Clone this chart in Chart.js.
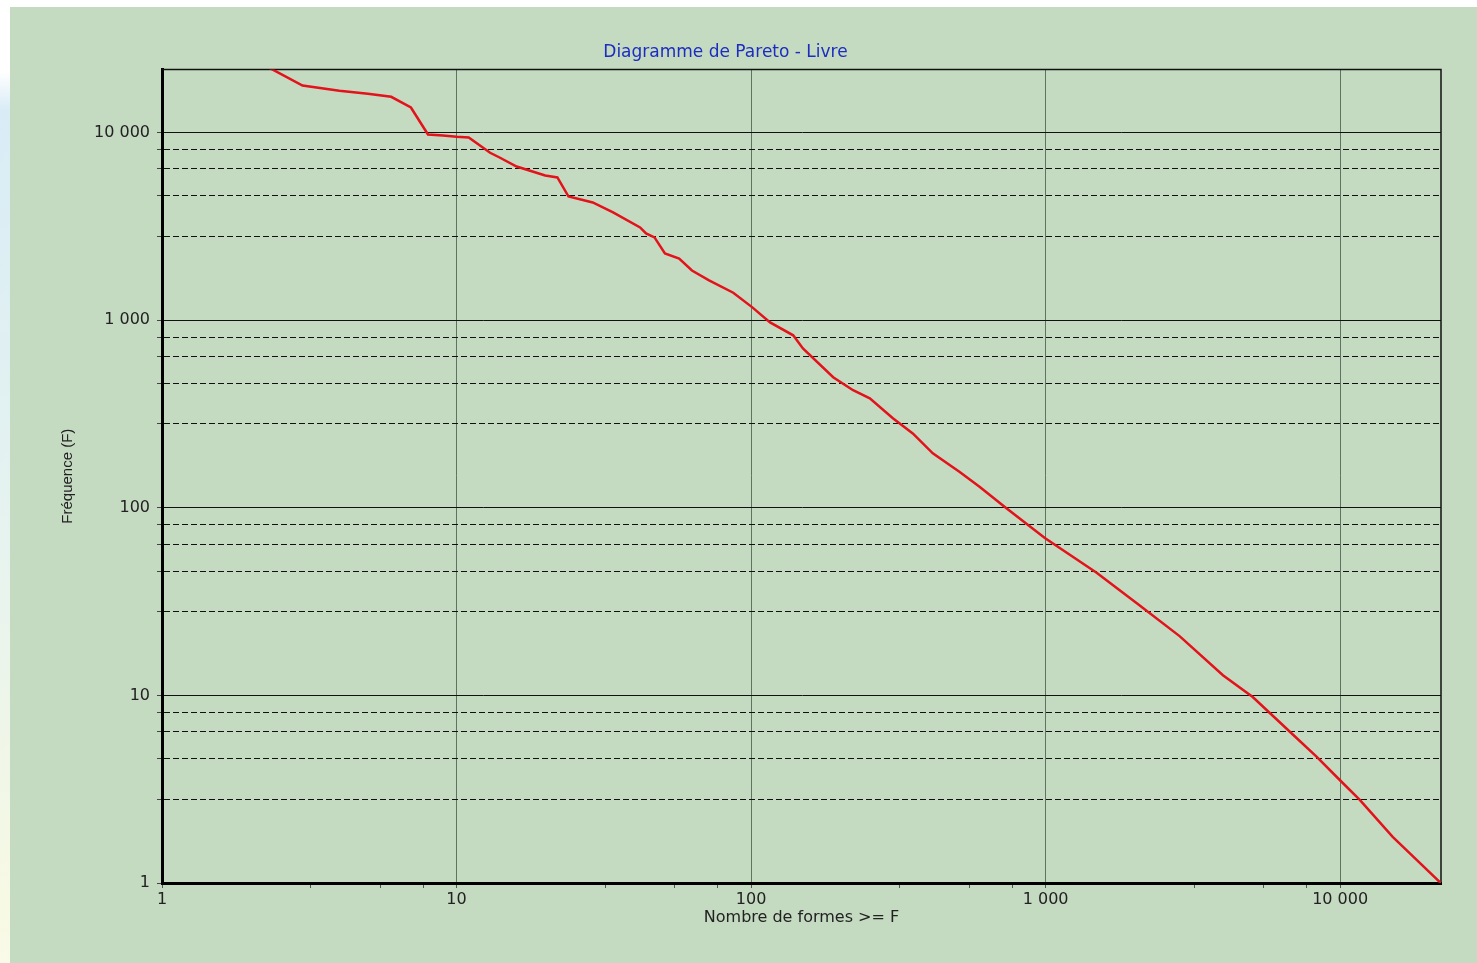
<!DOCTYPE html>
<html lang="fr">
<head>
<meta charset="utf-8">
<title>Diagramme de Pareto - Livre</title>
<script src="https://cdn.jsdelivr.net/npm/chart.js@4.4.1/dist/chart.umd.min.js"></script>
<style>
  html, body { margin: 0; padding: 0; width: 1477px; height: 963px; overflow: hidden; }
  body { background: linear-gradient(to bottom, #ffffff 0px, #ffffff 72px, #d9ecf6 110px, #e4f2f0 480px, #f6f9e4 900px, #f9fae8 963px); }
  #panel { position: absolute; left: 10px; top: 7px; width: 1467px; height: 956px; background: #c4dbc1; }
  canvas { display: block; }
</style>
</head>
<body>
<div id="panel"><canvas id="pareto" width="1467" height="956"></canvas></div>
<script>
// rang (nombre de formes >= F) et fréquence F
const rangs = [2, 3, 4, 5, 6, 7, 8, 9, 10, 11, 13, 14, 16, 20, 22, 24, 29, 34, 42, 44, 47, 51, 57, 63, 72, 87,
  101, 116, 139, 150, 190, 222, 253, 303, 354, 414, 511, 598, 727, 994,
  1490, 2040, 2850, 4000, 5050, 6750, 8330, 9970, 11660, 15080, 21960];
const frequences = [25000, 17800, 16700, 16100, 15500, 13600, 9760, 9650, 9500, 9400, 7800, 7360, 6590, 5900, 5760, 4560, 4240, 3750, 3120, 2900, 2760, 2270, 2130, 1840, 1630, 1400,
  1170, 973, 830, 707, 496, 423, 383, 300, 249, 195, 155, 129, 101, 69,
  45, 31, 20.7, 12.8, 9.8, 6.4, 4.7, 3.54, 2.77, 1.76, 1];

// graduations
const decades = [1, 10, 100, 1000, 10000];
const yIntermediaires = [2.8, 4.6, 6.4, 8.1]; // lignes pointillées dans chaque décade
const xIntermediaires = [3.2, 5.5, 7.7];      // petits traits sous l'axe des x
const xMax = 22000;
const yMax = 21700;

function formatFr(v) {
  return String(v).replace(/\B(?=(\d{3})+(?!\d))/g, ' ');
}

function graduations(facteurs, max) {
  const out = [];
  decades.forEach(d => {
    out.push(d);
    facteurs.forEach(f => out.push(d * f));
  });
  return out.filter(v => v <= max).sort((a, b) => a - b);
}

const estDecade = c => c.tick && decades.includes(c.tick.value);

const police = { family: 'DejaVu Sans', size: 16 };

// cadre fin en haut et à droite
const cadre = {
  id: 'cadre',
  beforeDatasetsDraw(chart) {
    const { ctx, chartArea: { left, top, right, bottom } } = chart;
    ctx.save();
    ctx.strokeStyle = '#111';
    ctx.lineWidth = 1.5;
    ctx.beginPath();
    ctx.moveTo(left, top);
    ctx.lineTo(right, top);
    ctx.lineTo(right, bottom);
    ctx.stroke();
    ctx.restore();
  }
};

const data = {
  datasets: [{
    label: 'Fréquence',
    data: rangs.map((r, i) => ({ x: r, y: frequences[i] })),
    borderColor: '#e3121b',
    borderWidth: 2.5,
    pointRadius: 0,
    tension: 0
  }]
};

const config = {
  type: 'line',
  data,
  options: {
    responsive: false,
    animation: false,
    layout: { padding: { left: 0, right: 36, top: 0, bottom: 0 } },
    plugins: {
      legend: { display: false },
      tooltip: { enabled: false },
      title: {
        display: true,
        text: 'Diagramme de Pareto - Livre',
        color: '#1d2cc0',
        font: { family: 'DejaVu Sans', size: 17, weight: 'normal' },
        padding: { top: 35, bottom: 7 }
      }
    },
    scales: {
      x: {
        type: 'logarithmic',
        min: 1,
        max: xMax,
        afterBuildTicks: s => { s.ticks = graduations(xIntermediaires, xMax).map(v => ({ value: v })); },
        afterFit: s => { s.height = 80; },
        ticks: {
          autoSkip: false,
          maxRotation: 0,
          padding: 2,
          color: '#222',
          font: police,
          callback: v => decades.includes(v) ? formatFr(v) : ''
        },
        grid: {
          color: c => estDecade(c) ? 'rgba(70,90,70,0.8)' : 'rgba(0,0,0,0)',
          lineWidth: 1,
          tickLength: 5,
          tickColor: '#555'
        },
        border: { color: '#000', width: 3 },
        title: {
          display: true,
          text: 'Nombre de formes >= F',
          color: '#222',
          font: police,
          padding: { top: 0, bottom: 36 }
        }
      },
      y: {
        type: 'logarithmic',
        min: 1,
        max: yMax,
        afterBuildTicks: s => { s.ticks = graduations(yIntermediaires, yMax).map(v => ({ value: v })); },
        afterFit: s => { s.width = 152; },
        ticks: {
          autoSkip: false,
          padding: 7,
          color: '#222',
          font: police,
          callback: v => decades.includes(v) ? formatFr(v) : ''
        },
        grid: {
          color: '#111',
          lineWidth: 1,
          tickLength: 5,
          tickColor: '#444'
        },
        border: {
          color: '#000',
          width: 3,
          dash: c => (c.tick && !decades.includes(c.tick.value)) ? [6, 3] : []
        },
        title: {
          display: true,
          text: 'Fréquence (F)',
          color: '#222',
          font: { family: 'Liberation Sans', size: 15 },
          padding: { top: 49, bottom: 0 }
        }
      }
    }
  },
  plugins: [cadre]
};

var pareto = new Chart(document.getElementById('pareto'), config);
</script>
</body>
</html>
